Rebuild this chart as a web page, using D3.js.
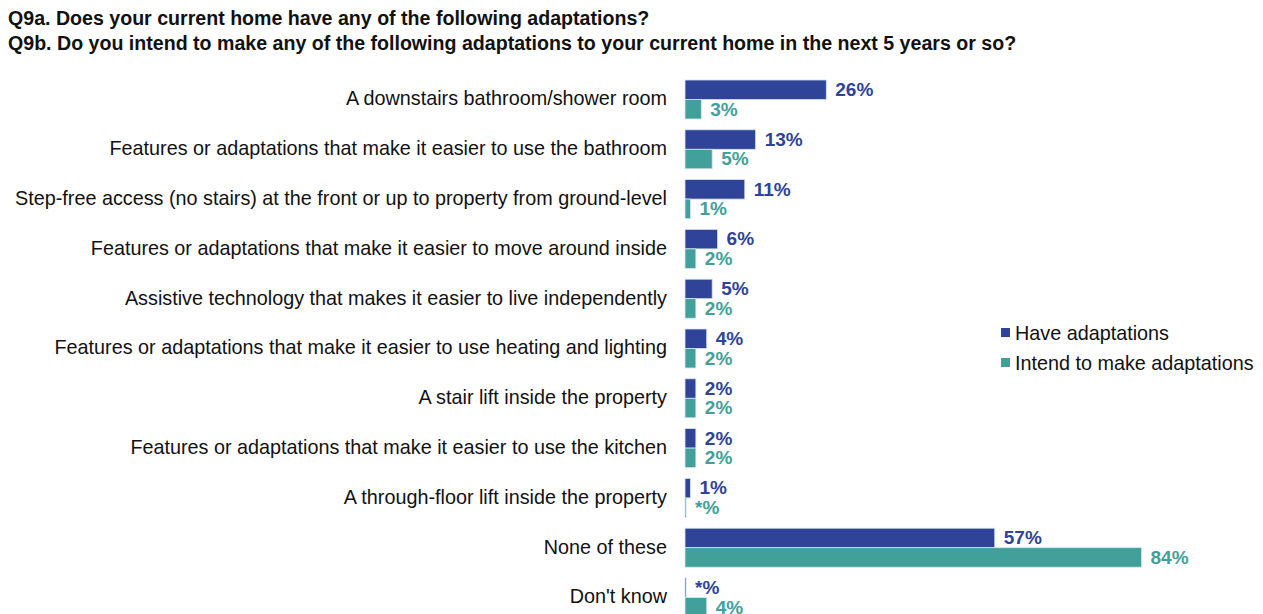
<!DOCTYPE html>
<html>
<head>
<meta charset="utf-8">
<script src="https://cdn.jsdelivr.net/npm/d3@7"></script>
<style>
  html, body { margin: 0; padding: 0; background: #fff; }
  svg { display: block; font-family: "Liberation Sans", Arial, sans-serif; }
</style>
</head>
<body>
<svg id="chart" width="1263" height="614"></svg>
<script>
// Survey questions shown as the chart heading
const titleLines = [
  "Q9a. Does your current home have any of the following adaptations?",
  "Q9b. Do you intend to make any of the following adaptations to your current home in the next 5 years or so?"
];

const categories = [
  "A downstairs bathroom/shower room",
  "Features or adaptations that make it easier to use the bathroom",
  "Step-free access (no stairs) at the front or up to property from ground-level",
  "Features or adaptations that make it easier to move around inside",
  "Assistive technology that makes it easier to live independently",
  "Features or adaptations that make it easier to use heating and lighting",
  "A stair lift inside the property",
  "Features or adaptations that make it easier to use the kitchen",
  "A through-floor lift inside the property",
  "None of these",
  "Don't know"
];

const seriesNames = ["Have adaptations", "Intend to make adaptations"];
const seriesColors = ["#2F4499", "#42A09B"];
const labelColors = ["#2F4499", "#42A09B"];

// Percentages; values under 0.5% are reported as "*"
const haveValues   = [26, 13, 11, 6, 5, 4, 2, 2, 1, 57, 0.2];
const intendValues = [3, 5, 1, 2, 2, 2, 2, 2, 0.2, 84, 4];
const haveLabels   = ["26%", "13%", "11%", "6%", "5%", "4%", "2%", "2%", "1%", "57%", "*%"];
const intendLabels = ["3%", "5%", "1%", "2%", "2%", "2%", "2%", "2%", "*%", "84%", "4%"];

const values = [haveValues, intendValues];
const valueLabels = [haveLabels, intendLabels];

const svg = d3.select("#chart");

// Heading
svg.append("g")
  .selectAll("text")
  .data(titleLines)
  .join("text")
  .attr("x", 8)
  .attr("y", (d, i) => 25 + i * 24.5)
  .attr("font-size", 19.6)
  .attr("font-weight", "bold")
  .attr("fill", "#111")
  .text(d => d);

// Scales
const x0 = 685;
const x = d3.scaleLinear().domain([0, 84]).range([x0, x0 + 456.5]);

const step = 49.8;
const innerPad = 0.217;
const bandW = step * (1 - innerPad);
const y = d3.scaleBand()
  .domain(categories)
  .range([80, 80 + (categories.length - 1) * step + bandW])
  .paddingInner(innerPad)
  .paddingOuter(0);

const ySub = d3.scaleBand()
  .domain(d3.range(seriesNames.length))
  .range([0, y.bandwidth()]);

// Category labels
svg.append("g")
  .selectAll("text")
  .data(categories)
  .join("text")
  .attr("x", 667)
  .attr("y", d => y(d) + y.bandwidth() / 2)
  .attr("dy", "0.3em")
  .attr("text-anchor", "end")
  .attr("font-size", 19.8)
  .attr("fill", "#111")
  .text(d => d);

// Bars and value labels per series
seriesNames.forEach((name, s) => {
  const g = svg.append("g");
  const rows = categories.map((c, i) => ({ c, v: values[s][i], label: valueLabels[s][i] }));

  g.selectAll("rect")
    .data(rows)
    .join("rect")
    .attr("x", x(0))
    .attr("y", d => y(d.c) + ySub(s))
    .attr("width", d => Math.max(0, x(d.v) - x(0)))
    .attr("height", ySub.bandwidth())
    .attr("fill", seriesColors[s])
    .attr("stroke", "#d6e3ee")
    .attr("stroke-width", 0.8);

  g.selectAll("text")
    .data(rows)
    .join("text")
    .attr("x", d => x(d.v) + 9)
    .attr("y", d => y(d.c) + ySub(s) + ySub.bandwidth() / 2)
    .attr("dy", "0.33em")
    .attr("font-size", 19)
    .attr("font-weight", "bold")
    .attr("fill", labelColors[s])
    .text(d => d.label);
});

// Legend
const legend = svg.append("g")
  .selectAll("g")
  .data(seriesNames)
  .join("g")
  .attr("transform", (d, i) => `translate(1001, ${333 + i * 30})`);

legend.append("rect")
  .attr("x", 0)
  .attr("y", -5)
  .attr("width", 9)
  .attr("height", 9)
  .attr("fill", (d, i) => seriesColors[i]);

legend.append("text")
  .attr("x", 14)
  .attr("y", 0)
  .attr("dy", "0.33em")
  .attr("font-size", 19.8)
  .attr("fill", "#111")
  .text(d => d);
</script>
</body>
</html>
